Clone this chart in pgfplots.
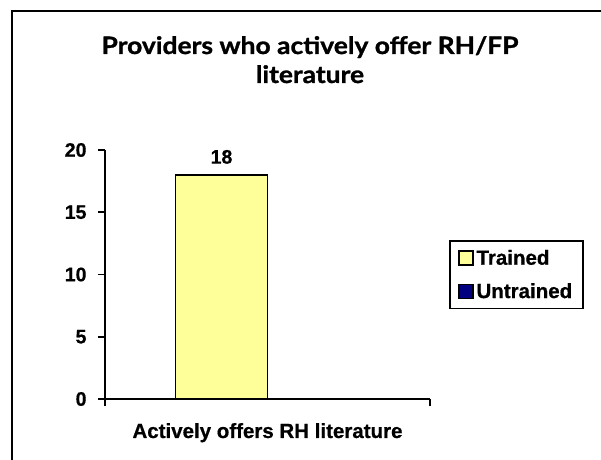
\documentclass[border=0pt]{standalone}
\usepackage{fontspec}
\setmainfont{Liberation Sans}[BoldFeatures={FakeBold=0.7}]
\newfontfamily\titlefont[FakeStretch=1.1, BoldFeatures={FakeBold=1.2}]{Lato}
\usepackage{pgfplots}
\pgfplotsset{compat=1.18}
\definecolor{trained}{HTML}{FFFF99}
\definecolor{untrained}{HTML}{000080}
\newcommand{\lblfont}{\bfseries\fontsize{20.5bp}{23bp}\selectfont}
\newcommand{\tckfont}{\bfseries\fontsize{19.5bp}{22bp}\selectfont}
\begin{document}
\begin{tikzpicture}[x=1bp,y=1bp]
\path[use as bounding box] (0,0) rectangle (601,460);
\draw[line width=2bp] (12,0) -- (12,449) -- (601,449);
\node[font=\titlefont\bfseries\fontsize{24bp}{29bp}\selectfont, anchor=base] at (310,406) {Providers who actively offer RH/FP};
\node[font=\titlefont\bfseries\fontsize{24bp}{29bp}\selectfont, anchor=base] at (310,377) {literature};
\begin{axis}[
  at={(105bp,61bp)}, anchor=south west,
  scale only axis, width=325bp, height=249bp,
  xmin=-0.5, xmax=0.5, ymin=0, ymax=20,
  axis lines*=left,
  axis line style={line width=2bp, black},
  every tick/.style={line width=1.8bp, black},
  tick align=outside,
  major tick length=7bp,
  ytick={0,5,10,15,20},
  yticklabel style={font=\tckfont, xshift=-8bp},
  xtick={-0.5,0.5},
  xticklabels={},
  xlabel={Actively offers RH literature},
  xlabel style={font=\lblfont, at={(axis description cs:0.5,0)}, anchor=base, yshift=-39bp},
  /pgf/number format/assume math mode=true,
  ybar=0pt, bar width=92bp,
  legend style={at={(1.0585,0.6386)}, anchor=north west, draw=black, line width=1.8bp,
    font=\lblfont, inner xsep=8bp, inner ysep=7bp, row sep=13bp,
    /tikz/every odd column/.append style={column sep=0bp},
    nodes={inner xsep=3bp}},
  legend cell align=left,
  clip=false,
]
\addplot[fill=trained, draw=black, line width=1.6bp,
  nodes near coords, every node near coord/.append style={font=\tckfont, yshift=7bp},
  legend image code/.code={\draw[fill=trained,draw=black,line width=1.6bp] (0bp,-7bp) rectangle (14bp,7bp);}]
  coordinates {(0,18)};
\addlegendentry{Trained}
\addplot[fill=untrained, draw=black, line width=1.6bp,
  legend image code/.code={\draw[fill=untrained,draw=black,line width=1.6bp] (0bp,-7bp) rectangle (14bp,7bp);}]
  coordinates {(0,0)};
\addlegendentry{Untrained}
\end{axis}
\end{tikzpicture}
\end{document}
